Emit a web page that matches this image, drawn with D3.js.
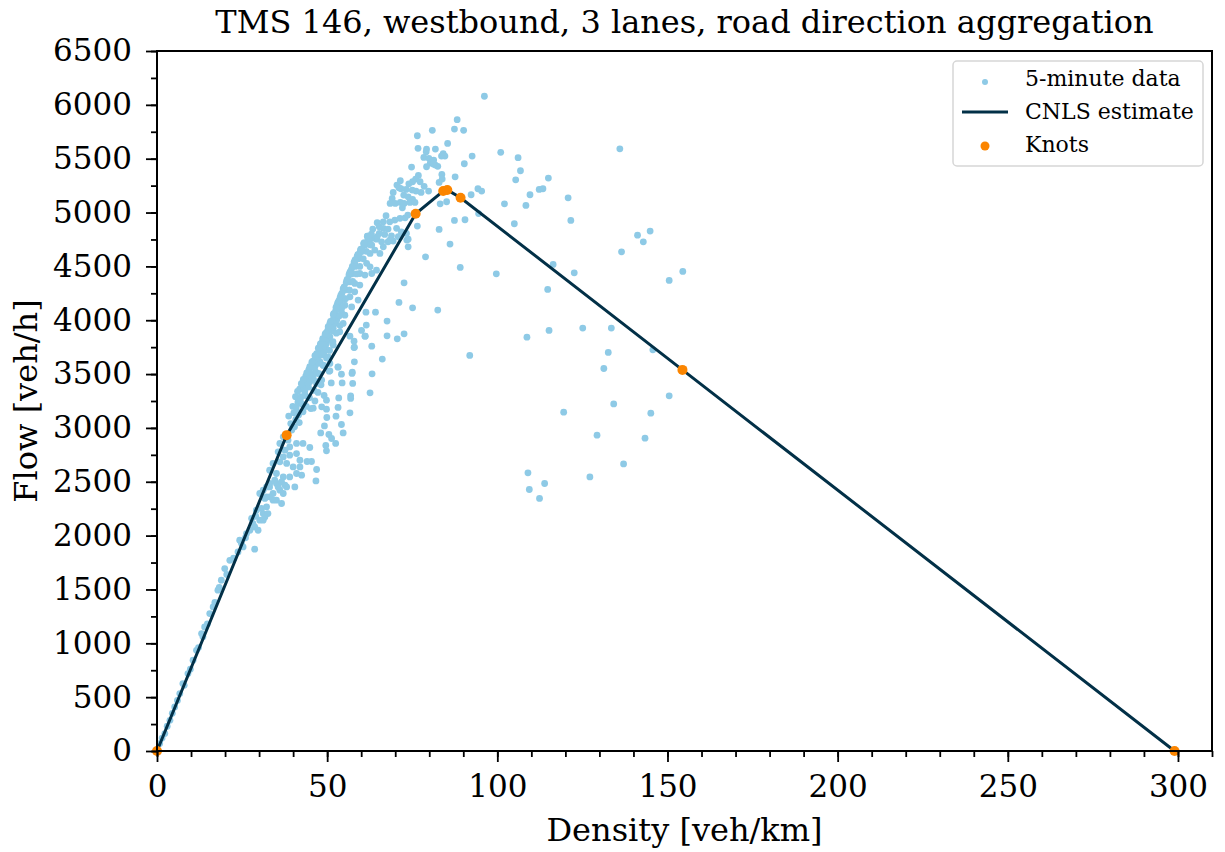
<!DOCTYPE html>
<html>
<head>
<meta charset="utf-8">
<script src="https://cdn.jsdelivr.net/npm/d3@7"></script>
<style>
body { margin: 0; background: #fff; }
svg text { font-family: "DejaVu Serif", serif; fill: #000; }
</style>
</head>
<body>
<svg id="chart"></svg>
<script>
var points5min = [
  [96.2,6080],[88.2,5862],[87.4,5775],[90.1,5763],[101.0,5559],[106.1,5509],[92.6,5524],[90.3,5453],[106.8,5388],[105.4,5304],
  [115.0,5320],[87.6,5332],[136.0,5592],[94.3,5221],[95.4,5199],[92.3,5165],[112.3,5215],[113.4,5221],[109.6,5165],[102.1,5081],
  [108.4,5066],[120.8,5137],[87.4,4927],[90.5,4933],[105.0,4896],[121.6,4927],[86.1,4707],[89.1,4490],[99.7,4431],[116.4,4518],
  [122.6,4440],[114.8,4286],[141.2,4790],[144.9,4828],[142.9,4728],[136.5,4635],[150.5,4370],[154.5,4453],[108.7,3843],[115.2,3905],
  [125.1,3927],[133.5,3927],[91.9,3673],[132.6,3701],[131.3,3552],[145.7,3725],[150.5,3298],[145.1,3137],[134.2,3223],[119.5,3146],
  [129.3,2933],[143.4,2905],[137.1,2666],[127.2,2545],[109.0,2583],[109.4,2428],[113.9,2484],[112.4,2345],[94.5,4990],[82.9,4843],
  [85.1,5100],[83.2,5081],
  [80.9,5763],[76.5,5713],[85.4,5642],[76.7,5596],[81.8,5589],[79.2,5589],[79.1,5564],[84.1,5546],[84.6,5524],[83.6,5524],
  [78.4,5512],[79.9,5503],[81.3,5487],[80.3,5459],[81.8,5441],[82.5,5429],[79.2,5425],[74.8,5422],[81.2,5450],[83.7,5354],
  [83.8,5311],[82.9,5280],[76.8,5345],[76.0,5311],[77.3,5286],[75.1,5286],[74.0,5267],[71.5,5295],[78.5,5243],[79.8,5199],
  [77.6,5187],[76.1,5199],[75.0,5209],[73.2,5215],[71.7,5221],[70.5,5255],[71.1,5230],[69.4,5187],[72.5,5162],[69.1,5131],
  [73.8,5146],[75.1,5122],[68.5,5085],[70.0,5085],[71.5,5094],[72.6,5085],[74.3,5094],[75.8,5094],[72.1,5044],[76.5,4874],
  [67.3,4970],[66.5,4914],[64.7,4905],[68.4,4914],[69.9,4930],[71.4,4946],[72.9,4951],[73.7,4976],[63.4,4846],[65.3,4868],
  [66.5,4853],[67.9,4846],[70.4,4853],[71.8,4821],[73.3,4806],[65.3,4806],[66.9,4797],[68.9,4784],[71.4,4775],[63.1,4760],
  [64.5,4753],[66.0,4728],[67.9,4728],[62.4,4722],[69.4,4735],[73.8,4753],
  [78.9,4589],[72.6,4347],[71.1,4165],[75.1,4115],[82.5,4094],[67.6,3992],[61.5,3955],[64.2,4075],[61.4,4075],[67.6,3855],
  [70.6,3827],[72.6,3874],[60.1,3905],[61.2,3852],[63.1,3759],[58.0,3750],[66.2,3639],[58.0,3614],[57.4,3518],[63.2,3502],
  [54.2,3499],[53.2,3564],[51.2,3418],[54.4,3418],[50.6,3527],
  [64.7,4775],[63.1,4698],[64.0,4651],[62.6,4620],[65.5,4620],[66.5,4682],[68.4,4744],[70.9,4775],[73.4,4744],[73.8,4682],
  [58.1,4518],[61.6,4528],[62.6,4496],[64.5,4465],[59.6,4434],[61.1,4419],[63.1,4434],
  [56.7,4357],[58.1,4342],[59.6,4326],[56.5,4280],[58.1,4264],[56.7,4217],[54.7,4202],[53.7,4171],[55.2,4140],[57.2,4124],[59.1,4187],
  [54.2,4078],[55.2,4047],[52.8,4001],[54.7,3970],[51.8,3924],[53.7,3892],[50.8,3846],[49.8,3784],[51.8,3769],[48.8,3722],
  [48.4,3676],[50.3,3660],[47.9,3614],[46.4,3567],[48.8,3583],[50.8,3599],[47.4,3506],[45.9,3474],[44.9,3428],[43.9,3381],
  [46.9,3413],[48.4,3444],
  [57.9,3805],[57.9,3746],[61.1,3852],[56.7,3852],[53.2,3567],[50.8,3530],[57.3,3506],[57.5,3413],[62.6,3326],[49.1,3301],
  [49.8,3258],[53.4,3279],[56.9,3298],[56.9,3274],[45.9,3183],[48.4,3196],[49.8,3174],[53.2,3190],[56.7,3140],[49.9,3097],
  [52.6,3109],[54.2,3032],[49.2,3019],[48.1,2954],[50.5,2939],[54.7,2954],[51.3,2902],[52.5,2856],[49.6,2837],[49.8,2787],
  [44.9,2818],[46.9,2614],[46.7,2508],[44.1,2688],[45.4,2688],[40.5,2452],[42.5,2561],[42.0,2638],
  [31.2,2422],[33.1,2452],[35.1,2484],[32.2,2360],[34.1,2391],[36.1,2422],[38.1,2452],[37.1,2545],[35.1,2577],[39.0,2545],
  [41.0,2577],[40.0,2638],[38.1,2670],[36.1,2685],[34.1,2670],[33.1,2607],[37.1,2731],[39.0,2747],[41.0,2762],[42.0,2700],
  [42.9,2856],[41.0,2856],[39.0,2824],[37.6,2793],[35.6,2778],[38.5,2886],[37.1,2917],[36.1,2856],
  [35.6,2452],[37.1,2391],[34.1,2329],[32.2,2267],[31.2,2205],[30.2,2143],[28.2,2112],[27.3,2050],[28.7,1874],[26.3,2019],
  [24.3,1957],[25.3,1895],[23.8,1849],[21.4,1771],[19.9,1694],[18.9,1586],[17.9,1493],[16.5,1338],[15.5,1276],[14.0,1152],
  [13.1,1090],[11.6,935],[10.6,843],[9.1,719],[7.6,626],[6.7,533],[5.2,409],[3.8,285],[2.3,162],[0.8,69],
  [32.2,2452],[33.1,2484],[34.6,2515],[36.6,2499],[37.6,2468],[30.2,2391],[31.7,2345],[33.1,2360],[35.1,2329],[36.6,2298],
  [29.2,2236],[30.7,2252],[32.6,2205],[31.2,2143],[28.7,2081],[29.7,2050],[31.7,2174],
  [1.5,120],[3.0,230],[4.5,350],[6.0,470],[8.0,610],[9.8,760],[12.2,960],[13.5,1060],[14.8,1180],[17.0,1380],
  [18.3,1520],[20.5,1640],[22.5,1790],[24.8,1930],[26.0,1980],[27.8,2160],[29.0,2180],
  [39.3,3040],[38.7,3110],[39.6,2980],[40.2,3140],[40.8,3080],[39.9,3200],[41.4,3240],[41.1,3150],[40.7,3290],[41.8,3050],
  [42.3,3290],[42.6,3220],[41.9,3360],[42.9,3150],[43.2,3370],[43.6,3300],[42.8,3420],[43.9,3200],[44.1,3440],[44.5,3380],
  [43.7,3480],[44.8,3280],[45.2,3180],[45.3,3500],[45.7,3450],[44.6,3540],[46.1,3350],[46.4,3250],[46.2,3580],[46.6,3520],
  [45.8,3620],[47.0,3430],[47.3,3330],[47.2,3650],[47.5,3600],[46.9,3690],[47.8,3500],[48.2,3400],[48.3,3720],[48.6,3680],
  [47.9,3760],[48.9,3580],[49.2,3800],[49.5,3750],[48.8,3820],[49.8,3650],[50.1,3900],[50.4,3820],[49.6,3880],[50.7,3720],
  [51.2,3970],[51.5,3900],[50.8,3970],[51.7,3800],[52.1,4050],[52.4,3970],[51.8,4050],[52.7,3880],[53.2,4120],[53.5,4040],
  [52.9,4140],[53.8,3950],[54.1,4200],[54.4,4120],[53.8,4210],[55.2,4280],[55.4,4200],[54.7,4290],[56.1,4360],[56.5,4280],
  [55.8,4370],[57.2,4430],[57.5,4360],[56.8,4450],[58.3,4500],[58.6,4430],[57.9,4540],[59.2,4570],[59.6,4500],[58.8,4590],
  [60.3,4640],[60.6,4570],[59.8,4650],[61.2,4700],[61.5,4640],[60.7,4710],[62.3,4760],[62.6,4700],[61.9,4780],
  [40.4,3010],[41.6,3120],[42.1,3260],[43.4,3340],[44.3,3420],[45.0,3490],[45.9,3560],[46.7,3640],[47.6,3710],[48.4,3790],
  [49.0,3700],[50.0,3860],[50.9,3930],[51.6,4000],[52.5,4090],[53.1,4160],[54.0,4230],[54.9,4300],[55.6,4350],[56.4,4420],
  [57.1,4470],[58.0,4530],[58.9,4590],[59.5,4620],[60.2,4660],[61.0,4700],[62.0,4760],[63.0,4800],
  [39.8,3020],[40.9,3190],[41.3,3340],[42.4,3410],[43.0,3450],[44.0,3510],[44.9,3570],[45.5,3610],[46.4,3670],[47.4,3740],
  [48.0,3780],[48.7,3830],[49.4,3870],[50.3,3940],[51.0,3990],[51.9,4060],[52.6,4120],[53.4,4180],[54.3,4250],[55.0,4310],
  [55.9,4380],[56.6,4440],[57.4,4500],[58.2,4560],[59.0,4610],[59.9,4660],[60.9,4720],[61.8,4780]
];

// CNLS piecewise linear estimate (knots)
var knotDensity = [0, 38.1, 76.0, 84.1, 85.3, 89.2, 154.4, 299.0];
var knotFlow = [0, 2933, 4988, 5200, 5210, 5137, 3539, 0];

var xTicks = [0, 50, 100, 150, 200, 250, 300];
var yTicks = [0, 500, 1000, 1500, 2000, 2500, 3000, 3500, 4000, 4500, 5000, 5500, 6000, 6500];
var legendLabels = ["5-minute data", "CNLS estimate", "Knots"];

var screen = {width: 1225, height: 852};
var margin = {left: 157, top: 51, right: 13, bottom: 101};
var w = screen.width - margin.left - margin.right;
var h = screen.height - margin.top - margin.bottom;

var svg = d3.select("#chart")
  .attr("width", screen.width)
  .attr("height", screen.height);

var xscale = d3.scaleLinear().domain([0, 310]).range([0, w]);
var yscale = d3.scaleLinear().domain([0, 6500]).range([h, 0]);

var g = svg.append("g").attr("transform", "translate(" + margin.left + "," + margin.top + ")");

// scatter
g.append("g").selectAll("circle")
  .data(points5min)
  .enter()
  .append("circle")
  .attr("cx", function(d) { return xscale(d[0]); })
  .attr("cy", function(d) { return yscale(d[1]); })
  .attr("r", 3.4)
  .attr("fill", "#8ecae6");

// CNLS line
var line = d3.line()
  .x(function(d, i) { return xscale(knotDensity[i]); })
  .y(function(d, i) { return yscale(knotFlow[i]); });

g.append("path")
  .datum(knotDensity)
  .attr("d", line)
  .attr("fill", "none")
  .attr("stroke", "#023047")
  .attr("stroke-width", 3);

// knots
g.append("g").selectAll("circle")
  .data(knotDensity)
  .enter()
  .append("circle")
  .attr("cx", function(d) { return xscale(d); })
  .attr("cy", function(d, i) { return yscale(knotFlow[i]); })
  .attr("r", 5)
  .attr("fill", "#fb8500");

// axes
var xAxis = d3.axisBottom(xscale).tickValues(xTicks).tickSize(11).tickPadding(13).tickFormat(d3.format("d"));
var xMinor = d3.axisBottom(xscale).tickValues(d3.range(0, 311, 10)).tickSize(6).tickFormat("");
var yAxis = d3.axisLeft(yscale).tickValues(yTicks).tickSize(11).tickPadding(14).tickFormat(d3.format("d"));
var yMinor = d3.axisLeft(yscale).tickValues(d3.range(0, 6501, 250)).tickSize(6).tickFormat("");

g.append("g").attr("transform", "translate(0," + h + ")").call(xMinor);
g.append("g").attr("transform", "translate(0," + h + ")").attr("class", "xaxis").call(xAxis);
g.append("g").call(yMinor);
g.append("g").attr("class", "yaxis").call(yAxis);

g.selectAll(".domain").remove();
g.selectAll(".tick line").attr("stroke", "#000").attr("stroke-width", 1.8);
g.selectAll(".xaxis text, .yaxis text")
  .style("font-family", "DejaVu Serif")
  .style("font-size", "31px")
  .attr("fill", "#000");

// frame
g.append("rect")
  .attr("width", w)
  .attr("height", h)
  .attr("fill", "none")
  .attr("stroke", "#000")
  .attr("stroke-width", 2);

// labels
svg.append("text")
  .attr("x", margin.left + w / 2)
  .attr("y", 33)
  .attr("text-anchor", "middle")
  .style("font-size", "32px")
  .text("TMS 146, westbound, 3 lanes, road direction aggregation");

svg.append("text")
  .attr("x", margin.left + w / 2)
  .attr("y", 841)
  .attr("text-anchor", "middle")
  .style("font-size", "32px")
  .text("Density [veh/km]");

svg.append("text")
  .attr("transform", "translate(37," + (margin.top + h / 2) + ") rotate(-90)")
  .attr("text-anchor", "middle")
  .style("font-size", "32px")
  .text("Flow [veh/h]");

// legend
var leg = svg.append("g").attr("transform", "translate(953,61)");
leg.append("rect")
  .attr("width", 250)
  .attr("height", 105)
  .attr("rx", 4)
  .attr("fill", "#fff")
  .attr("fill-opacity", 0.8)
  .attr("stroke", "#d6d6d6")
  .attr("stroke-width", 1.5);

leg.selectAll("text")
  .data(legendLabels)
  .enter()
  .append("text")
  .attr("x", 72)
  .attr("y", function(d, i) { return 25 + i * 33; })
  .style("font-size", "22px")
  .text(function(d) { return d; });

leg.append("circle").attr("cx", 32).attr("cy", 21).attr("r", 3).attr("fill", "#8ecae6");
leg.append("line").attr("x1", 9).attr("x2", 55).attr("y1", 51).attr("y2", 51)
  .attr("stroke", "#023047").attr("stroke-width", 3);
leg.append("circle").attr("cx", 32).attr("cy", 85).attr("r", 4.5).attr("fill", "#fb8500");
</script>
</body>
</html>
